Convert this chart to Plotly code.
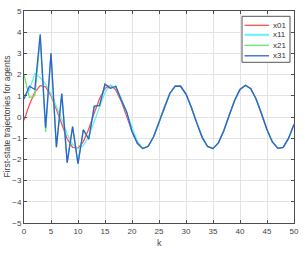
import plotly.graph_objects as go

k = list(range(0, 51))

x01 = [-0.15, 0.58, 1.17, 1.48, 1.42, 1.01, 0.36, -0.38, -1.03, -1.43,
       -1.47, -1.16, -0.56, 0.18, 0.87, 1.35, 1.50, 1.28, 0.75, 0.04,
       -0.69, -1.24, -1.49, -1.38, -0.93, -0.25, 0.49, 1.11, 1.46, 1.45,
       1.08, 0.45, -0.29, -0.96, -1.39, -1.49, -1.22, -0.65, 0.08, 0.78,
       1.30, 1.50, 1.33, 0.84, 0.14, -0.60, -1.18, -1.48, -1.43, -1.00,
       -0.35]

x11 = [1.02, 1.26, 2.05, 1.85, 1.55, 1.10, 0.50, -0.10, -0.80, -1.30,
       -1.50, -1.35, -0.90, -0.20, 0.55, 1.15, 1.50, 1.40, 0.90, 0.20,
       -0.55, -1.15, -1.48, -1.38, -0.93, -0.25, 0.49, 1.11, 1.46, 1.45,
       1.08, 0.45, -0.29, -0.96, -1.39, -1.49, -1.22, -0.65, 0.08, 0.78,
       1.30, 1.50, 1.33, 0.84, 0.14, -0.60, -1.18, -1.48, -1.43, -1.00,
       -0.35]

x21 = [2.00, 0.92, 1.00, 3.70, -0.70, 3.00, -1.42, 1.10, -2.15, -0.45,
       -2.20, -0.60, -1.05, 0.50, 0.55, 1.55, 1.35, 1.45, 0.80, 0.25,
       -0.68, -1.24, -1.49, -1.38, -0.93, -0.25, 0.49, 1.11, 1.46, 1.45,
       1.08, 0.45, -0.29, -0.96, -1.39, -1.49, -1.22, -0.65, 0.08, 0.78,
       1.30, 1.50, 1.33, 0.84, 0.14, -0.60, -1.18, -1.48, -1.43, -1.00,
       -0.35]

x31 = [0.85, 1.45, 1.30, 3.90, -0.50, 3.00, -1.42, 1.10, -2.15, -0.45,
       -2.20, -0.60, -1.05, 0.50, 0.55, 1.55, 1.35, 1.45, 0.80, 0.25,
       -0.68, -1.24, -1.49, -1.38, -0.93, -0.25, 0.49, 1.11, 1.46, 1.45,
       1.08, 0.45, -0.29, -0.96, -1.39, -1.49, -1.22, -0.65, 0.08, 0.78,
       1.30, 1.50, 1.33, 0.84, 0.14, -0.60, -1.18, -1.48, -1.43, -1.00,
       -0.35]

names = ["x01", "x11", "x21", "x31"]
colors = ["#ff5050", "#66f2f2", "#66e866", "#2f5fe0"]
series = [x01, x11, x21, x31]

FONT = "Liberation Sans, Arial, sans-serif"
TXT = "#444444"

W, H = 305, 255
PLOT_L, PLOT_R, PLOT_T, PLOT_B = 24, 294, 10.7, 222.7  # page pixels
ML, MR, MT, MB = PLOT_L, W - PLOT_R, PLOT_T, H - PLOT_B
PW, PH = PLOT_R - PLOT_L, PLOT_B - PLOT_T


def px(xp):
    return (xp - PLOT_L) / PW


def py(yp):
    return (PLOT_B - yp) / PH


fig = go.Figure()
for name, col, ys in zip(names, colors, series):
    fig.add_trace(go.Scatter(x=k, y=ys, mode="lines", name=name,
                             line=dict(color=col, width=1.3), showlegend=False))

axis_common = dict(
    showgrid=True, gridcolor="#e3e3e3", gridwidth=1,
    showline=True, linecolor="#4d4d4d", linewidth=1, mirror="ticks",
    ticks="inside", ticklen=3, tickcolor="#4d4d4d",
    zeroline=False, automargin=False,
    tickfont=dict(family=FONT, size=8, color=TXT),
)

fig.update_layout(
    width=W, height=H,
    margin=dict(l=ML, r=MR, t=MT, b=MB, pad=0),
    paper_bgcolor="white", plot_bgcolor="white",
    font=dict(family=FONT, size=8, color=TXT),
    xaxis=dict(range=[0, 50], dtick=5, tick0=0, **axis_common),
    yaxis=dict(range=[-5, 5], dtick=1, tick0=0, **axis_common),
    showlegend=False,
)

# axis titles
fig.add_annotation(x=0.5, y=py(243), xref="paper", yref="paper",
                   text="k", showarrow=False, font=dict(family=FONT, size=9, color=TXT),
                   xanchor="center", yanchor="middle")
fig.add_annotation(x=px(6.5), y=0.5, xref="paper", yref="paper",
                   text="First-state trajectories for agents", textangle=-90,
                   showarrow=False, font=dict(family=FONT, size=8.5, color=TXT),
                   xanchor="center", yanchor="middle")

# legend box
fig.add_shape(type="rect", xref="paper", yref="paper",
              x0=px(242), x1=px(290), y0=py(62), y1=py(16),
              fillcolor="white", line=dict(color="#555555", width=1), layer="above")
rows = [25, 34.5, 45, 55.5]
for name, col, r in zip(names, colors, rows):
    fig.add_shape(type="line", xref="paper", yref="paper",
                  x0=px(244.5), x1=px(269), y0=py(r), y1=py(r),
                  line=dict(color=col, width=1.3 if name != "x11" else 2), layer="above")
    fig.add_annotation(x=px(270.5), y=py(r), xref="paper", yref="paper",
                       text=name, showarrow=False, xanchor="left", yanchor="middle",
                       font=dict(family=FONT, size=8, color="#333333"))

fig.write_html("out.html",
               config={"displayModeBar": False},
               post_script="document.body.style.margin='0px';"
                           "document.body.style.overflow='hidden';")
